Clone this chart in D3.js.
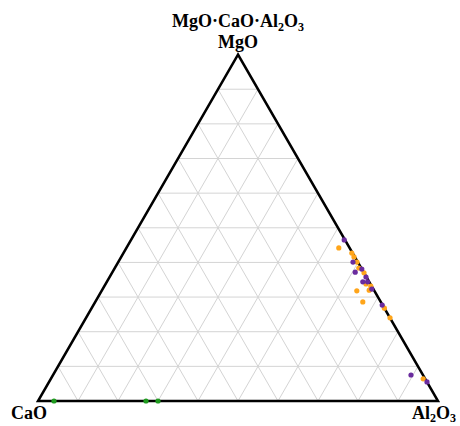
<!DOCTYPE html>
<html>
<head>
<meta charset="utf-8">
<script src="https://cdn.jsdelivr.net/npm/d3@7"></script>
<style>
  body { margin: 0; background: #fff; }
  text { font-family: "Liberation Serif", "DejaVu Serif", serif; font-weight: bold; font-size: 18px; }
</style>
</head>
<body>
<div id="chart"></div>
<script>
// compositions as fractions: [MgO, CaO, Al2O3]
const orangePts = [
  [0.442, 0.027, 0.531], [0.427, 0.002, 0.571], [0.416, 0.002, 0.582],
  [0.401, 0.002, 0.597], [0.384, 0.006, 0.610], [0.370, 0.000, 0.630],
  [0.338, 0.011, 0.651], [0.332, 0.002, 0.666], [0.318, 0.044, 0.638],
  [0.320, 0.012, 0.668], [0.286, 0.045, 0.669], [0.268, 0.000, 0.732],
  [0.240, 0.000, 0.760], [0.064, 0.005, 0.931]
];
const purplePts = [
  [0.465, 0.002, 0.533], [0.401, 0.012, 0.587], [0.372, 0.021, 0.607],
  [0.381, 0.000, 0.619], [0.358, 0.001, 0.641], [0.344, 0.016, 0.640],
  [0.344, 0.004, 0.652], [0.323, 0.004, 0.673], [0.277, 0.001, 0.722],
  [0.075, 0.030, 0.895], [0.055, 0.000, 0.945]
];
const greenPts = [
  [0, 0.96, 0.04], [0, 0.73, 0.27], [0, 0.70, 0.30]
];
const gridSteps = d3.range(1, 10).map(i => i / 10);

const width = 460, height = 426;
const side = 400;
const h = side * Math.sqrt(3) / 2;
const left = 38, base = 401;

const svg = d3.select('#chart')
  .append('svg')
  .attr('width', width)
  .attr('height', height);

// scales: horizontal along base, vertical for MgO share
const x = d3.scaleLinear().domain([0, 1]).range([left, left + side]);
const y = d3.scaleLinear().domain([0, 1]).range([base, base - h]);

function project(d) {
  const m = d[0], a = d[2];
  return [x(a + m / 2), y(m)];
}

const A = project([1, 0, 0]); // MgO top
const B = project([0, 1, 0]); // CaO left
const C = project([0, 0, 1]); // Al2O3 right

// grid lines
const grid = svg.append('g')
  .attr('stroke', '#d4d4d4')
  .attr('stroke-width', 1);

gridSteps.forEach(t => {
  // constant MgO
  const p1 = project([t, 1 - t, 0]), p2 = project([t, 0, 1 - t]);
  // constant Al2O3
  const q1 = project([0, 1 - t, t]), q2 = project([1 - t, 0, t]);
  // constant CaO
  const r1 = project([0, t, 1 - t]), r2 = project([1 - t, t, 0]);
  [[p1, p2], [q1, q2], [r1, r2]].forEach(l => {
    grid.append('line')
      .attr('x1', l[0][0]).attr('y1', l[0][1])
      .attr('x2', l[1][0]).attr('y2', l[1][1]);
  });
});

// triangle border
svg.append('path')
  .attr('d', d3.line()([A, B, C]) + 'Z')
  .attr('fill', 'none')
  .attr('stroke', '#000')
  .attr('stroke-width', 2.5)
  .attr('stroke-linejoin', 'miter');

// points
function drawPts(data, color) {
  svg.append('g')
    .selectAll('circle')
    .data(data)
    .enter().append('circle')
    .attr('cx', d => project(d)[0])
    .attr('cy', d => project(d)[1])
    .attr('r', 2.6)
    .style('fill', color);
}
drawPts(greenPts, '#1e9a1e');
drawPts(orangePts, '#ffa51a');
drawPts(purplePts, '#6a2c9e');

// labels
const title = svg.append('text')
  .attr('x', A[0]).attr('y', 27)
  .attr('text-anchor', 'middle');
title.append('tspan').text('MgO·CaO·Al');
title.append('tspan').attr('font-size', 12).attr('dy', 4).text('2');
title.append('tspan').attr('dy', -4).text('O');
title.append('tspan').attr('font-size', 12).attr('dy', 4).text('3');

svg.append('text')
  .attr('x', A[0]).attr('y', 48)
  .attr('text-anchor', 'middle')
  .text('MgO');

svg.append('text')
  .attr('x', B[0] - 27).attr('y', 419)
  .text('CaO');

const al = svg.append('text')
  .attr('x', 456).attr('y', 419)
  .attr('text-anchor', 'end');
al.append('tspan').text('Al');
al.append('tspan').attr('font-size', 12).attr('dy', 3).text('2');
al.append('tspan').attr('dy', -3).text('O');
al.append('tspan').attr('font-size', 12).attr('dy', 3).text('3');
</script>
</body>
</html>
